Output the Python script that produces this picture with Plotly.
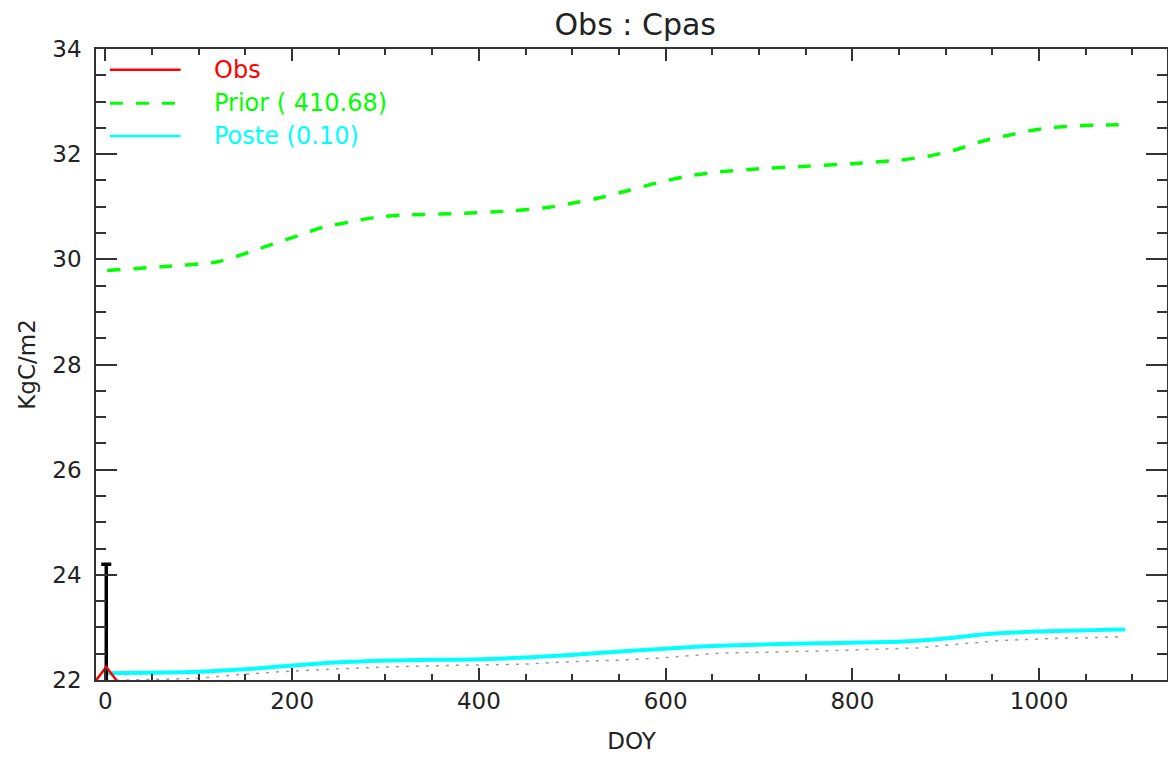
import plotly.graph_objects as go

# --- data ---
obs_x = [1]
obs_y = [21.98]
obs_err = [2.22]

prior_x = [2, 60, 119, 148, 176, 205, 233, 262, 290, 319, 376, 433, 475, 504, 532,
           560, 590, 620, 650, 690, 750, 799, 853, 881, 910, 938, 967, 995,
           1024, 1060, 1092]
prior_y = [29.79, 29.86, 29.95, 30.10, 30.27, 30.44, 30.61, 30.71, 30.80, 30.84,
           30.87, 30.92, 30.99, 31.08, 31.18, 31.31, 31.45, 31.57, 31.65, 31.71,
           31.77, 31.82, 31.89, 31.96, 32.08, 32.24, 32.36, 32.46, 32.52,
           32.55, 32.56]

post_x = [1, 91, 162, 233, 304, 411, 483, 540, 604, 657, 764, 853, 906, 942,
          995, 1092]
post_y = [22.13, 22.15, 22.22, 22.32, 22.37, 22.40, 22.46, 22.53, 22.60, 22.65,
          22.70, 22.73, 22.80, 22.87, 22.92, 22.96]

true_x = [1, 55, 98, 141, 190, 247, 304, 376, 447, 500, 554, 604, 657, 764,
          871, 924, 960, 1013, 1092]
true_y = [21.99, 22.01, 22.03, 22.10, 22.16, 22.21, 22.25, 22.28, 22.30, 22.35,
          22.38, 22.43, 22.51, 22.55, 22.61, 22.70, 22.75, 22.79, 22.82]

legend_names = ["Obs", "Prior ( 410.68)", "Poste (0.10)"]
legend_colors = ["#ff0000", "#00ff00", "#00ffff"]
legend_dash = ["solid", "13px,13px", "solid"]

FONT = "DejaVu Sans"
INK = "#222222"

fig = go.Figure()

# reference ("true") run, thin grey dots
fig.add_trace(go.Scatter(x=true_x, y=true_y, mode="lines",
                         line=dict(color="#999999", width=1.5, dash="3px,7px"),
                         showlegend=False, hoverinfo="skip"))

# prior
fig.add_trace(go.Scatter(x=prior_x, y=prior_y, mode="lines", line_shape="spline",
                         line=dict(color="#00ff00", width=3.5, dash="13px,13px", smoothing=0.8),
                         showlegend=False))

# posterior
fig.add_trace(go.Scatter(x=post_x, y=post_y, mode="lines", line_shape="spline",
                         line=dict(color="#00ffff", width=4, smoothing=0.8),
                         showlegend=False))

# observation + error bar
fig.add_trace(go.Scatter(x=obs_x, y=obs_y, mode="markers",
                         marker=dict(symbol="triangle-up-open", size=28,
                                     color="#ff0000", line=dict(width=2.5, color="#ff0000")),
                         error_y=dict(type="data", array=obs_err, color="black",
                                      thickness=3.5, width=5),
                         showlegend=False))

# legend drawn by hand (IDL style: long sample line, coloured text)
rows_y = [0.967, 0.914, 0.862]
for name, col, dash, yy in zip(legend_names, legend_colors, legend_dash, rows_y):
    fig.add_shape(type="line", xref="paper", yref="paper",
                  x0=0.013, x1=0.079, y0=yy, y1=yy,
                  line=dict(color=col, width=2.5 if dash == "solid" else 3, dash=dash))
    fig.add_annotation(text=name, xref="paper", yref="paper", x=0.108, y=yy,
                       xanchor="left", yanchor="middle", showarrow=False,
                       font=dict(family=FONT, size=24, color=col))

axis_common = dict(
    showgrid=False, zeroline=False, showline=True, linecolor="#333333", linewidth=1.5,
    mirror="allticks", ticks="inside", tickcolor="#333333", tickwidth=1.5,
    tickfont=dict(family=FONT, size=23, color=INK),
)

fig.update_xaxes(range=[-10, 1137], dtick=200, tick0=0, ticklen=12,
                 minor=dict(dtick=50, ticks="inside", ticklen=6, tickcolor="#333333"),
                 title=dict(text="DOY", font=dict(family=FONT, size=23, color=INK), standoff=20),
                 **axis_common)
fig.update_yaxes(range=[22, 34], dtick=2, tick0=22, ticklen=21,
                 minor=dict(dtick=0.5, ticks="inside", ticklen=10, tickcolor="#333333"),
                 ticklabelstandoff=8,
                 title=dict(text="KgC/m2", font=dict(family=FONT, size=23, color=INK), standoff=10),
                 **axis_common)

# the page adds an 8px body margin, so the figure is a bit smaller than the window
fig.update_layout(
    width=1168, height=752,
    margin=dict(l=88, r=7, t=41, b=80),
    paper_bgcolor="white", plot_bgcolor="white",
    title=dict(text="Obs : Cpas", x=0.537, xanchor="center", y=0.978, yanchor="middle",
               font=dict(family=FONT, size=30, color=INK)),
    showlegend=False,
)

fig.write_html("out.html")
